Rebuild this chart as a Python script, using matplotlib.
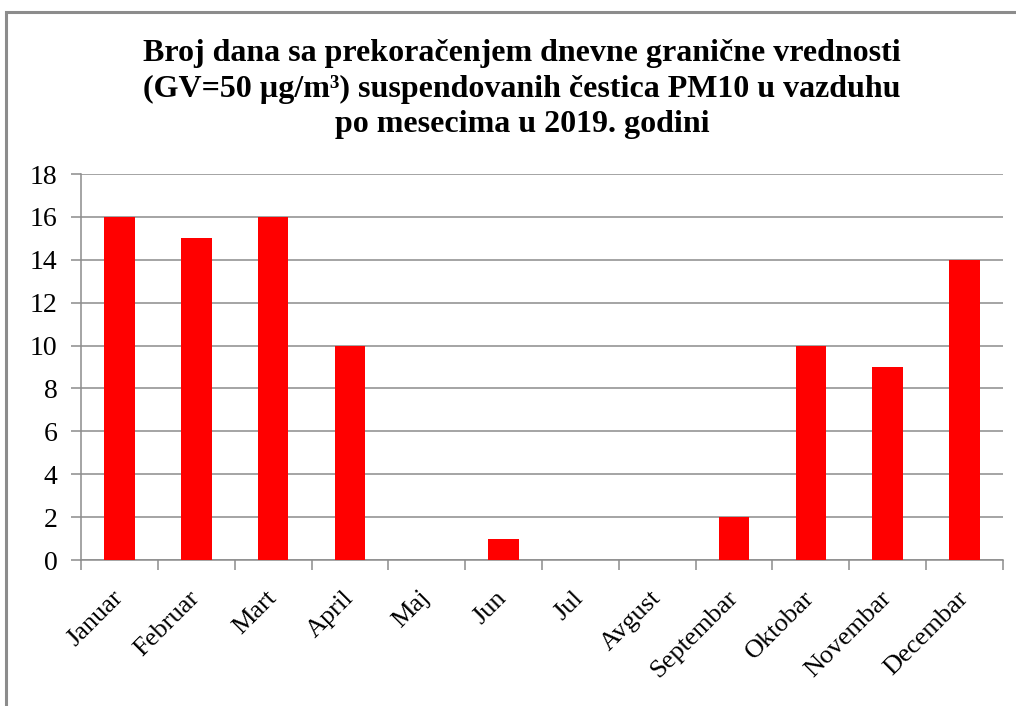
import matplotlib.pyplot as plt
import matplotlib as mpl
from matplotlib.patches import Rectangle

months = ["Januar", "Februar", "Mart", "April", "Maj", "Jun", "Jul",
          "Avgust", "Septembar", "Oktobar", "Novembar", "Decembar"]
days = [16, 15, 16, 10, 0, 1, 0, 0, 2, 10, 9, 14]
yticks = [0, 2, 4, 6, 8, 10, 12, 14, 16, 18]

mpl.rcParams['font.family'] = ['Liberation Serif', 'DejaVu Serif']

W, H = 1016, 706
fig = plt.figure(figsize=(W / 100, H / 100), dpi=100)
ax = fig.add_axes([81 / W, 1 - 560 / H, (1003 - 81) / W, (560 - 174) / H])

# outer frame (only top and left visible in the reference)
fig.patches.append(Rectangle((6 / W, -0.1), 1.2, 1 - 12 / H + 0.1,
                             transform=fig.transFigure, fill=False,
                             edgecolor="#8c8c8c", linewidth=2.2))

x = range(len(months))
ax.bar(x, days, width=0.4, color="#ff0000", zorder=3)

ax.set_xlim(-0.5, len(months) - 0.5)
ax.set_ylim(0, 18)
ax.set_yticks(yticks)
ax.yaxis.grid(True, color="#8c8c8c", linewidth=1.1, zorder=0)
ax.set_axisbelow(True)

ax.set_xticks([i + 0.5 for i in range(-1, len(months))])
ax.set_xticklabels([])
ax.set_xticks(list(x), minor=True)
ax.set_xticklabels(months, minor=True, rotation=45, ha="right", va="center",
                   rotation_mode="anchor", fontsize=19)
ax.tick_params(axis="x", which="minor", length=0, pad=25)
ax.tick_params(axis="x", which="major", length=7, color="#8c8c8c", width=1.1)
ax.tick_params(axis="y", length=7, color="#8c8c8c", width=1.1,
               labelsize=20, pad=10)

for s in ["top", "right"]:
    ax.spines[s].set_visible(False)
for s in ["left", "bottom"]:
    ax.spines[s].set_color("#8c8c8c")
    ax.spines[s].set_linewidth(1.1)

fig.text(522 / W, 1 - 89 / H,
         "Broj dana sa prekoračenjem dnevne granične vrednosti\n"
         "(GV=50 µg/m³) suspendovanih čestica PM10 u vazduhu\n"
         "po mesecima u 2019. godini",
         ha="center", va="center", fontsize=23, fontweight="bold",
         linespacing=1.3)

fig.savefig("out.png", dpi=100)
